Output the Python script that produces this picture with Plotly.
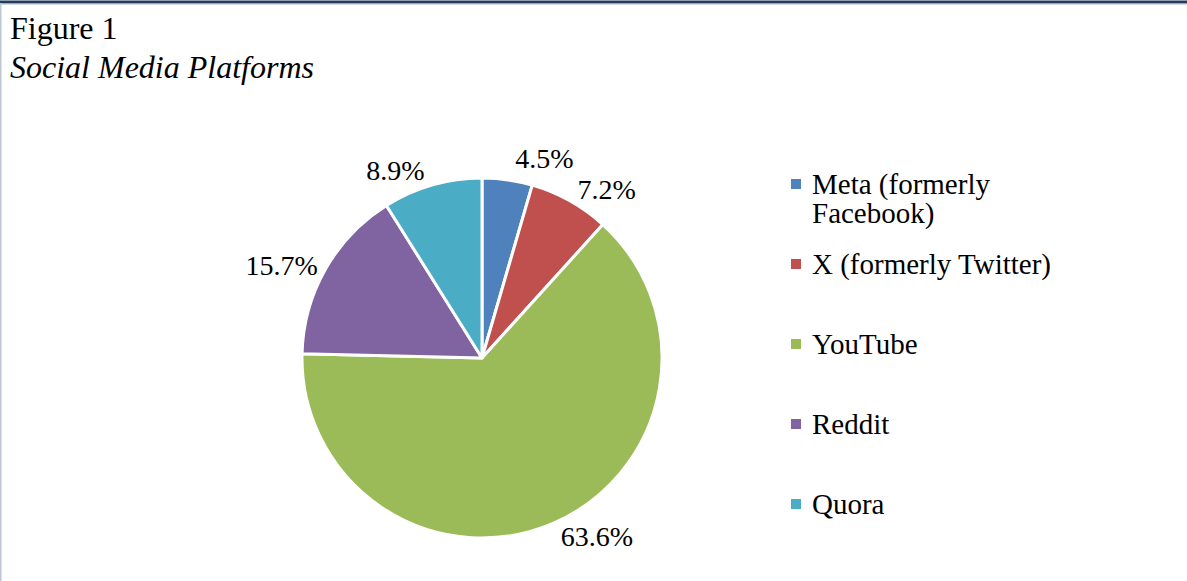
import plotly.graph_objects as go

categories = ["Meta (formerly\nFacebook)", "X (formerly Twitter)", "YouTube", "Reddit", "Quora"]
values = [4.5, 7.2, 63.6, 15.7, 8.9]
colors = ["#4F81BD", "#C0504D", "#9BBB59", "#8064A2", "#4BACC6"]
title_line1 = "Figure 1"
title_line2 = "Social Media Platforms"

W, H = 1187, 581
FONT = "Liberation Serif"

def px_x(x):
    return x / W

def px_y(y):
    return 1 - y / H

fig = go.Figure()

fig.add_trace(go.Pie(
    labels=[c.replace("\n", " ") for c in categories],
    values=values,
    text=[f"{v:.1f}%" for v in values],
    textinfo="text",
    textposition="outside",
    textfont=dict(family=FONT, size=28, color="black"),
    marker=dict(colors=colors, line=dict(color="white", width=3)),
    sort=False,
    direction="clockwise",
    rotation=0,
    showlegend=False,
    hoverinfo="label+percent",
    domain=dict(x=[px_x(302), px_x(662)], y=[px_y(538), px_y(178)]),
))

# legend markers (drawn as a scatter on hidden full-figure axes)
leg_top = 184
leg_step = 80
leg_y = [px_y(leg_top + leg_step * i) for i in range(len(categories))]
fig.add_trace(go.Scatter(
    x=[px_x(796)] * len(categories),
    y=leg_y,
    mode="markers",
    marker=dict(symbol="square", size=10, color=colors),
    showlegend=False,
    hoverinfo="skip",
    xaxis="x", yaxis="y",
))

annotations = []
for i, cat in enumerate(categories):
    for j, line in enumerate(cat.split("\n")):
        annotations.append(dict(
            x=px_x(810), y=px_y(leg_top + leg_step * i + 30 * j),
            xref="paper", yref="paper", xanchor="left", yanchor="middle",
            text=line, showarrow=False,
            font=dict(family=FONT, size=29, color="black"),
        ))

annotations.append(dict(x=px_x(8), y=px_y(28), xref="paper", yref="paper",
                        xanchor="left", yanchor="middle", text=title_line1,
                        showarrow=False, font=dict(family=FONT, size=32, color="black")))
annotations.append(dict(x=px_x(8), y=px_y(67), xref="paper", yref="paper",
                        xanchor="left", yanchor="middle", text=f"<i>{title_line2}</i>",
                        showarrow=False, font=dict(family=FONT, size=32, color="black")))

shapes = [
    dict(type="line", xref="paper", yref="paper", x0=0, x1=1, y0=px_y(2), y1=px_y(2),
         line=dict(color="#243B5E", width=3)),
    dict(type="line", xref="paper", yref="paper", x0=0, x1=1, y0=px_y(4), y1=px_y(4),
         line=dict(color="#A9B6C8", width=1)),
    dict(type="line", xref="paper", yref="paper", x0=px_x(0.5), x1=px_x(0.5), y0=0, y1=px_y(3),
         line=dict(color="#BCC6D3", width=2)),
]

fig.update_layout(
    width=W, height=H,
    margin=dict(l=0, r=0, t=0, b=0),
    paper_bgcolor="white", plot_bgcolor="white",
    xaxis=dict(range=[0, 1], domain=[0, 1], visible=False, fixedrange=True),
    yaxis=dict(range=[0, 1], domain=[0, 1], visible=False, fixedrange=True),
    annotations=annotations,
    shapes=shapes,
)

fig.write_html(
    "out.html",
    post_script="document.querySelectorAll('path.textline').forEach(function(e){e.style.display='none';});",
)
